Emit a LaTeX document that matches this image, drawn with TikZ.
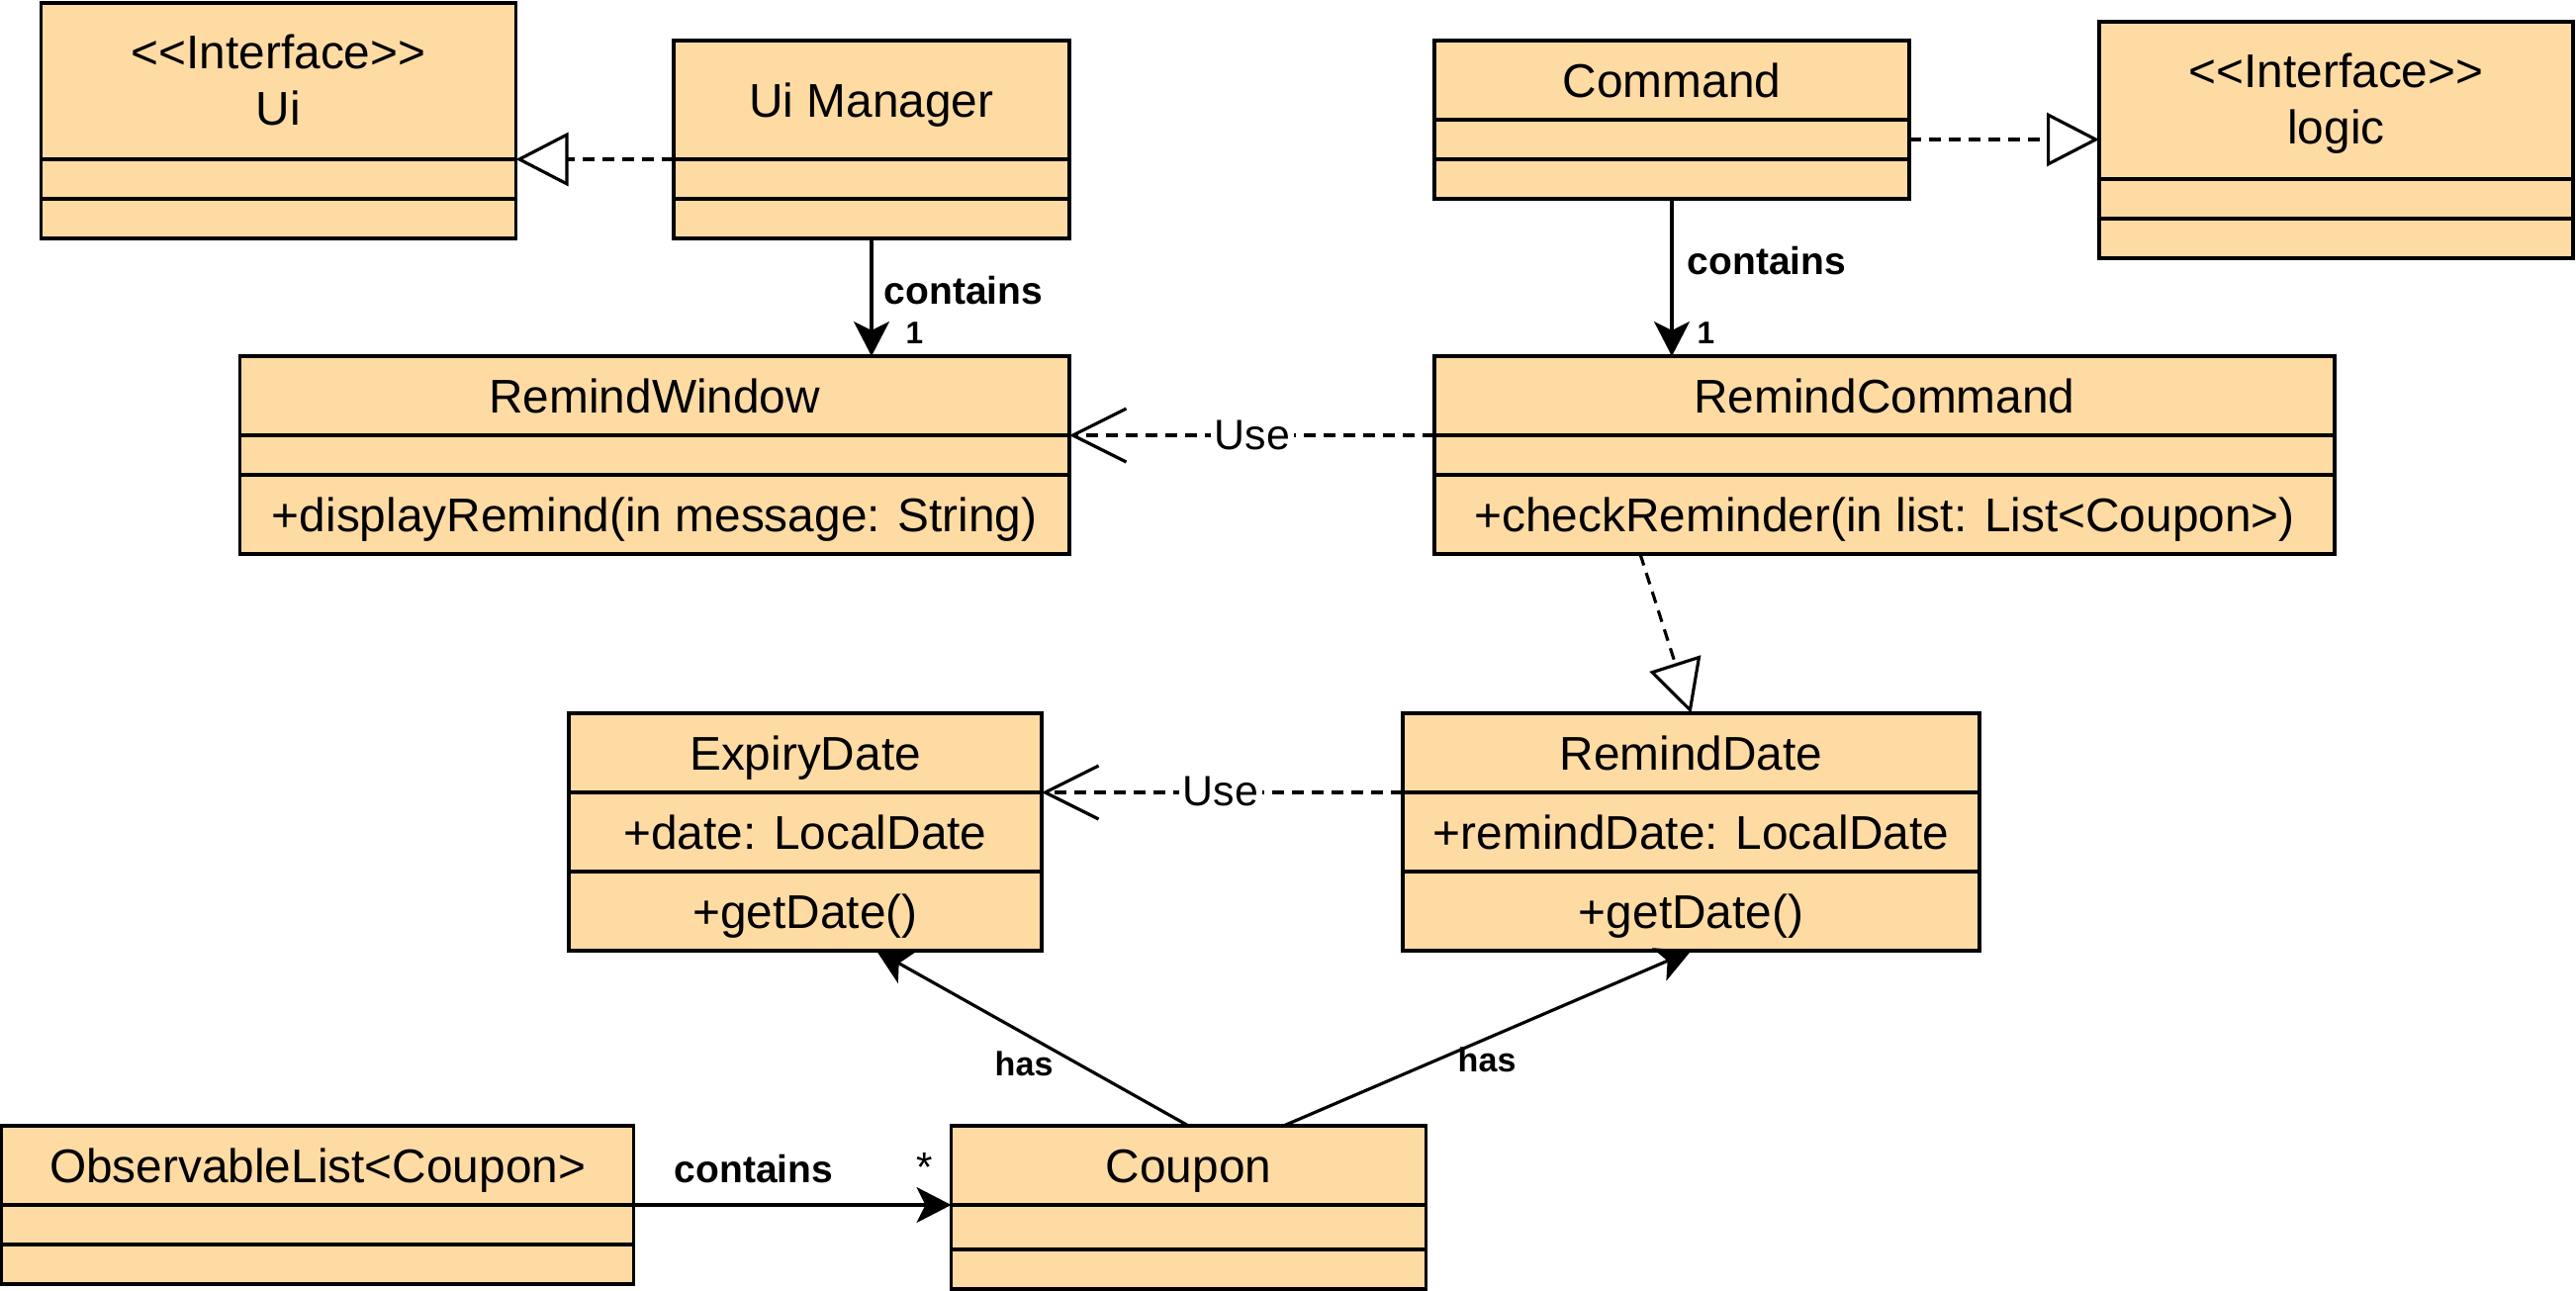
\documentclass[tikz,border=0pt]{standalone}
\usepackage{fontspec}
\setmainfont{Liberation Sans}
\usepackage{xcolor}
\usepackage{tikz}
\usetikzlibrary{shapes.multipart,arrows.meta,calc}
\definecolor{classfill}{RGB}{255,219,164}
% one row of a class box: fixed height (less the split line), text centred on it
\newcommand{\rowtext}[2]{\rule[\dimexpr0.17cm-#1/2+0.5pt\relax]{0pt}{\dimexpr#1-1pt\relax}#2}

\begin{document}
\begin{tikzpicture}
	\tikzstyle{classbox}=[rectangle split, rectangle split parts=3, draw, line width=1pt, fill=classfill, anchor=north west, inner xsep=2pt, inner ysep=0pt, outer sep=0pt, rectangle split empty part height=0.2cm-0.5pt, rectangle split empty part depth=0.2cm-0.5pt, font=\fontsize{13.6}{16.3}\selectfont]
	\tikzstyle{assoc}=[line width=0.9pt, -{Stealth[length=3.5mm,width=3.6mm,inset=0.9mm]}]
	\tikzstyle{realize}=[line width=0.9pt, dash pattern=on 1.2mm off 0.8mm, -{Triangle[length=5.3mm,width=5.4mm,fill=white]}]
	\tikzstyle{usedep}=[line width=0.9pt, dash pattern=on 1.2mm off 0.8mm, -{Straight Barb[length=5.4mm,width=5.4mm]}]
	\tikzstyle{lbl}=[inner sep=0pt, font=\fontsize{11.1}{13}\selectfont\bfseries]
	\tikzstyle{haslbl}=[inner sep=0pt, font=\fontsize{9.7}{11}\selectfont\bfseries]
	\tikzstyle{mult}=[inner sep=0pt, font=\fontsize{9}{10}\selectfont\bfseries]
	\tikzstyle{uselbl}=[fill=white, inner xsep=1pt, inner ysep=1pt, font=\fontsize{12.2}{14}\selectfont]
	\useasboundingbox (0,0) rectangle (26.04,-13.04);

	% ui side
	\node[classbox, minimum width=4.80cm] (ui) at (0.415,-0.03) {\rowtext{1.58cm}{\begin{tabular}{@{}c@{}}<\kern0pt<Interface>\kern0pt>\\Ui\end{tabular}}\nodepart{two}\rowtext{0.4cm}{}\nodepart{three}\rowtext{0.4cm}{}};
	\node[classbox, minimum width=4.00cm] (uimgr) at (6.81,-0.41) {\rowtext{1.2cm}{Ui Manager}\nodepart{two}\rowtext{0.4cm}{}\nodepart{three}\rowtext{0.4cm}{}};
	\node[classbox, minimum width=8.385cm] (rwin) at (2.425,-3.60) {\rowtext{0.8cm}{RemindWindow}\nodepart{two}\rowtext{0.4cm}{}\nodepart{three}\rowtext{0.8cm}{+displayRemind(in message: String)}};

	% logic side
	\node[classbox, minimum width=4.80cm] (cmd) at (14.50,-0.41) {\rowtext{0.8cm}{Command}\nodepart{two}\rowtext{0.4cm}{}\nodepart{three}\rowtext{0.4cm}{}};
	\node[classbox, minimum width=4.79cm] (logic) at (21.22,-0.22) {\rowtext{1.59cm}{\begin{tabular}{@{}c@{}}<\kern0pt<Interface>\kern0pt>\\logic\end{tabular}}\nodepart{two}\rowtext{0.4cm}{}\nodepart{three}\rowtext{0.4cm}{}};
	\node[classbox, minimum width=9.10cm] (rcmd) at (14.50,-3.60) {\rowtext{0.8cm}{RemindCommand}\nodepart{two}\rowtext{0.4cm}{}\nodepart{three}\rowtext{0.8cm}{+checkReminder(in list: List<Coupon>)}};

	% model
	\node[classbox, minimum width=4.78cm] (exp) at (5.75,-7.21) {\rowtext{0.8cm}{ExpiryDate}\nodepart{two}\rowtext{0.8cm}{+date: LocalDate}\nodepart{three}\rowtext{0.8cm}{+getDate()}};
	\node[classbox, minimum width=5.83cm] (rdate) at (14.18,-7.21) {\rowtext{0.8cm}{RemindDate}\nodepart{two}\rowtext{0.8cm}{+remindDate: LocalDate}\nodepart{three}\rowtext{0.8cm}{+getDate()}};
	\node[classbox, minimum width=6.39cm] (obs) at (0.017,-11.38) {\rowtext{0.8cm}{ObservableList<Coupon>}\nodepart{two}\rowtext{0.4cm}{}\nodepart{three}\rowtext{0.4cm}{}};
	\node[classbox, minimum width=4.80cm] (coupon) at (9.615,-11.38) {\rowtext{0.8cm}{Coupon}\nodepart{two}\rowtext{0.45cm}{}\nodepart{three}\rowtext{0.4cm}{}};

	% connectors
	\draw[realize] (uimgr.text split west) -- (ui.text split east);
	\coordinate (cmdr) at ([yshift=-2mm]cmd.text split east);
	\draw[realize] (cmdr) -- (cmdr -| logic.west);
	\draw[assoc] (uimgr.south) -- (rwin.north -| uimgr.south);
	\draw[assoc] (cmd.south) -- (rcmd.north -| cmd.south);
	\draw[usedep] (rcmd.text split west) -- (rwin.text split east);
	\draw[realize] ([xshift=2.08cm]rcmd.south west) -- (rdate.north);
	\draw[usedep] (rdate.text split west) -- (exp.text split east);
	\draw[assoc] (coupon.north) -- ([xshift=3.11cm]exp.south west);
	\draw[assoc] ([xshift=3.36cm]coupon.north west) -- (rdate.south);
	\draw[assoc] (obs.text split east) -- (coupon.text split west);

	% labels
	\node[lbl, anchor=base west] (cont1) at (8.93,-3.07) {contains};
	\node[mult, anchor=base west] (one1) at (9.15,-3.47) {1};
	\node[lbl, anchor=base west] (cont2) at (17.05,-2.77) {contains};
	\node[mult, anchor=base west] (one2) at (17.15,-3.47) {1};
	\node[uselbl, anchor=base] (use1) at (12.66,-4.54) {Use};
	\node[uselbl, anchor=base] (use2) at (12.34,-8.14) {Use};
	\node[haslbl, anchor=base west] (has1) at (10.05,-10.87) {has};
	\node[haslbl, anchor=base west] (has2) at (14.73,-10.83) {has};
	\node[lbl, anchor=base west] (cont3) at (6.81,-11.95) {contains};
	\node[inner sep=0pt, anchor=base, font=\fontsize{12}{14}\selectfont] (star) at (9.345,-11.94) {*};
\end{tikzpicture}
\end{document}
